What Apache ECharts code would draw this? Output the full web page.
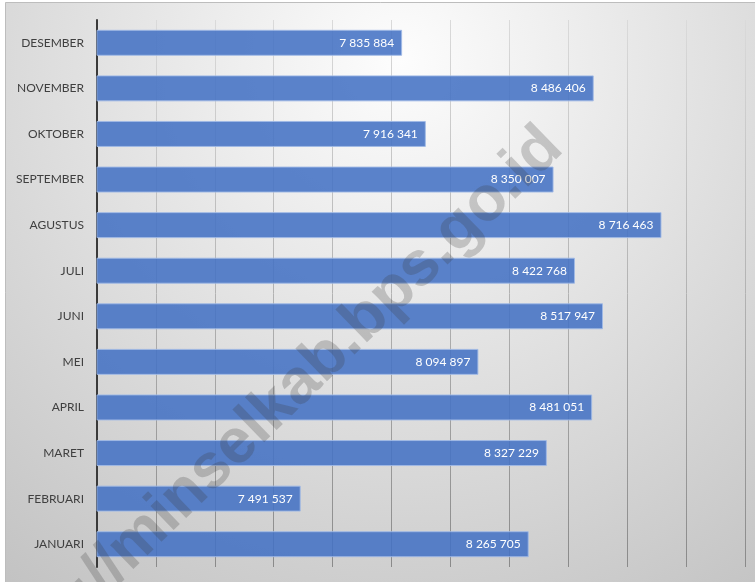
<!DOCTYPE html>
<html>
<head>
<meta charset="utf-8">
<script src="https://cdn.jsdelivr.net/npm/echarts@6/dist/echarts.min.js"></script>
<style>
  html, body { margin: 0; padding: 0; background: #ffffff; }
  #chart { width: 755px; height: 582px; }
</style>
</head>
<body>
<div id="chart"></div>
<script>
// Monthly totals, January at the bottom through December at the top
const months = ['JANUARI', 'FEBRUARI', 'MARET', 'APRIL', 'MEI', 'JUNI',
                'JULI', 'AGUSTUS', 'SEPTEMBER', 'OKTOBER', 'NOVEMBER', 'DESEMBER'];
const totals = [8265705, 7491537, 8327229, 8481051, 8094897, 8517947,
                8422768, 8716463, 8350007, 7916341, 8486406, 7835884];
const axisMin = 6800000;
const axisMax = 9000000;
const axisStep = 200000;
const watermark = 'https://minselkab.bps.go.id';

// "8 265 705" style grouping with spaces
function groupDigits(v) {
  return String(Math.round(v)).replace(/\B(?=(\d{3})+(?!\d))/g, ' ');
}

const chart = echarts.init(document.getElementById('chart'), null, { renderer: 'canvas' });

const gridLineColor = new echarts.graphic.LinearGradient(0, 20, 0, 567, [
  { offset: 0, color: '#dadada' },
  { offset: 1, color: '#8a8a8a' }
], true);

chart.setOption({
  animation: false,
  graphic: [
    {
      type: 'rect',
      z: -100,
      silent: true,
      shape: { x: 5.5, y: 2.5, width: 760, height: 600 },
      style: {
        fill: new echarts.graphic.RadialGradient(400, 60, 650, [
          { offset: 0, color: '#fdfdfd' },
          { offset: 1, color: '#c3c3c3' }
        ], true),
        stroke: '#bdbdbd',
        lineWidth: 1
      }
    },
    {
      type: 'text',
      z: 100,
      silent: true,
      x: 553,
      y: 138,
      rotation: 0.77,
      style: {
        text: watermark,
        font: 'bold 63px "Liberation Sans", Arial, sans-serif',
        fill: 'rgba(60,60,60,0.24)',
        align: 'right',
        verticalAlign: 'middle'
      }
    }
  ],
  grid: { left: 97, right: 10, top: 20, bottom: 15 },
  xAxis: {
    type: 'value',
    min: axisMin,
    max: axisMax,
    interval: axisStep,
    axisLabel: { show: false },
    axisLine: { show: false },
    axisTick: { show: false },
    splitLine: { show: true, lineStyle: { color: gridLineColor, width: 1 } }
  },
  yAxis: {
    type: 'category',
    data: months,
    axisTick: { show: false },
    axisLine: { show: true, lineStyle: { color: '#3a3a3a', width: 2 } },
    axisLabel: {
      margin: 13,
      color: '#404040',
      fontFamily: 'Lato, "Noto Sans", sans-serif',
      fontSize: 12
    }
  },
  series: [{
    type: 'bar',
    data: totals,
    barCategoryGap: '43%',
    itemStyle: {
      color: 'rgba(68,114,196,0.88)',
      borderColor: 'rgba(160,185,230,0.9)',
      borderWidth: 1
    },
    label: {
      show: true,
      position: 'insideRight',
      distance: 8,
      color: '#ffffff',
      fontFamily: 'Lato, "Noto Sans", sans-serif',
      fontSize: 12,
      formatter: p => groupDigits(p.value)
    }
  }]
});
</script>
</body>
</html>
